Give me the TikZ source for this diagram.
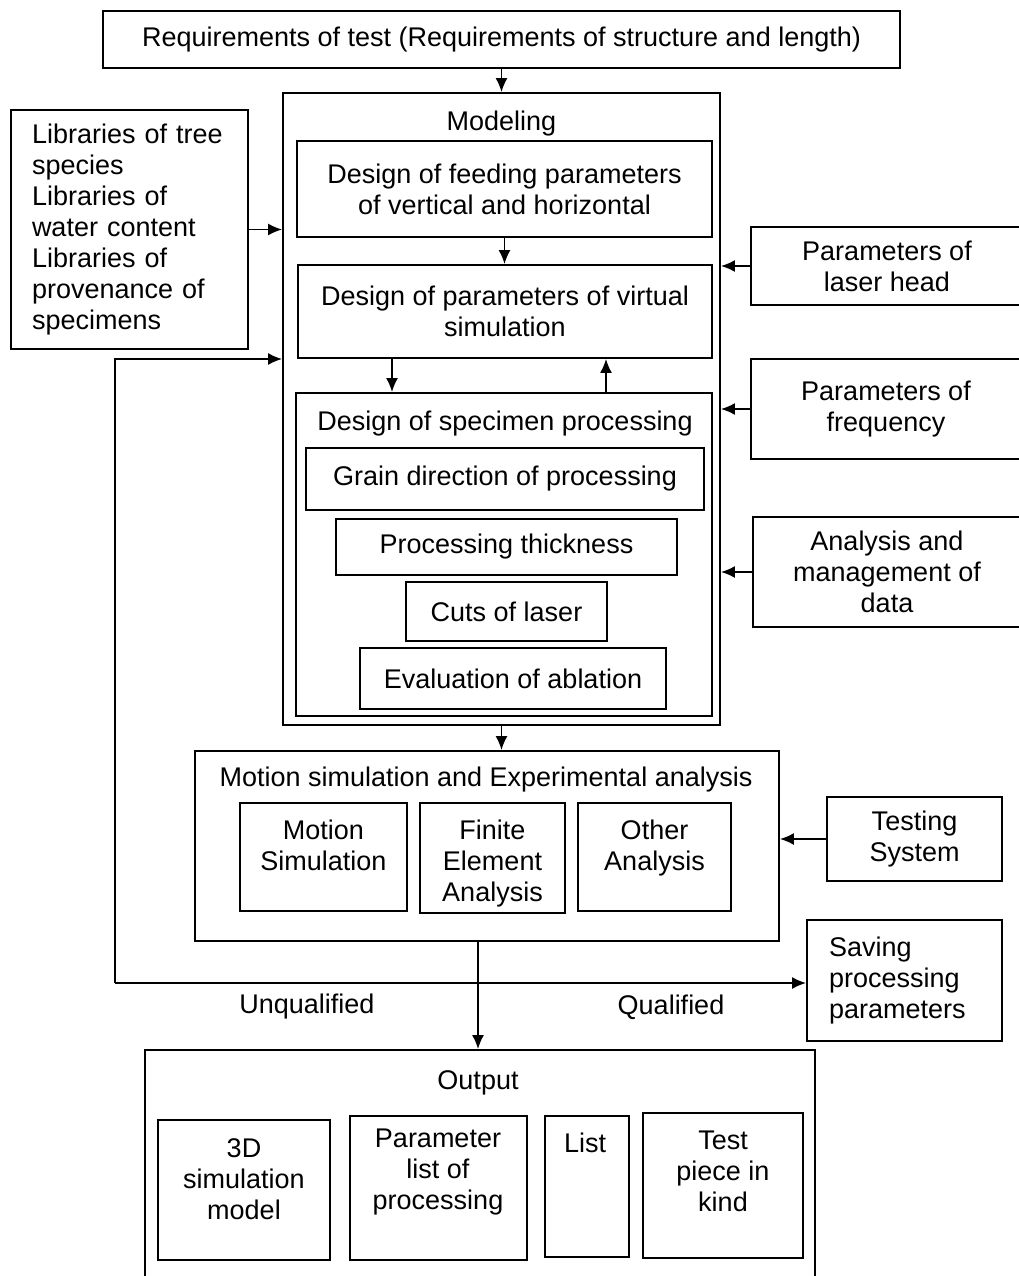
\documentclass[tikz,border=0pt]{standalone}
\usepackage{fontspec}
\setmainfont{Liberation Sans}
\usetikzlibrary{arrows.meta,positioning}

\begin{document}
\begin{tikzpicture}[ x=1pt, y=-1pt, font=\fontsize{27}{31}\selectfont,
  block/.style={rectangle, draw, line width=1.8pt, align=center, inner sep=0pt},
  frame/.style={rectangle, draw, line width=1.8pt, inner sep=0pt},
  title/.style={align=center, inner sep=0pt},
  line/.style={draw, line width=1.8pt, -{Latex[length=14pt,width=12pt]}},
  ]
  \useasboundingbox (0,0) rectangle (1018,1276);

  \node (requirements) [block, minimum width=797pt, minimum height=57pt] at (501.5,39.5) {Requirements of test (Requirements of structure and length)};

  % modeling block
  \node (modeling) [frame, minimum width=437pt, minimum height=632pt] at (501.5,409) {};
  \node (modeling title) [title] at (501.5,124) {Modeling};
  \node (feeding) [block, minimum width=415pt, minimum height=96pt] at (504.5,189) {Design of feeding parameters\\of vertical and horizontal};
  \node (virtual) [block, minimum width=414pt, minimum height=93pt] at (505,311.5) {Design of parameters of virtual\\simulation};
  \node (specimen) [frame, minimum width=416pt, minimum height=323pt] at (504,554.5) {};
  \node (specimen title) [title] at (505,424) {Design of specimen processing};
  \node (grain) [block, minimum width=398pt, minimum height=62pt] at (505,479) {Grain direction of processing};
  \node (thickness) [block, minimum width=341pt, minimum height=56pt] at (506.5,547) {Processing thickness};
  \node (cuts) [block, minimum width=201pt, minimum height=59pt] at (506.5,611.5) {Cuts of laser};
  \node (ablation) [block, minimum width=306pt, minimum height=61pt] at (513,678.5) {Evaluation of ablation};

  % inputs
  \node (libraries) [block, align=left, text width=195pt, inner xsep=21pt, minimum height=239pt] at (129.5,229.5) {Libraries of tree\\species\\Libraries of\\water content\\Libraries of\\provenance of\\specimens};
  \node (laser head) [block, minimum width=272pt, minimum height=78pt] at (887,266) {Parameters of\\laser head};
  \node (frequency) [block, minimum width=270pt, minimum height=100pt] at (886,409) {Parameters of\\frequency};
  \node (data) [block, minimum width=268pt, minimum height=110pt] at (887,572) {Analysis and\\management of\\data};

  % simulation and analysis
  \node (motion) [frame, minimum width=584pt, minimum height=190pt] at (487,846) {};
  \node (motion title) [title] at (486,780) {Motion simulation and Experimental analysis};
  \node (motion sim) [frame, minimum width=167pt, minimum height=108pt] at (323.5,857) {};
  \node (motion sim text) [title] at (323.5,845.5) {Motion\\Simulation};
  \node (finite) [frame, minimum width=145pt, minimum height=110pt] at (492.5,858) {};
  \node (finite text) [title] at (492.5,864) {Finite\\Element\\Analysis};
  \node (other) [frame, minimum width=153pt, minimum height=108pt] at (654.5,857) {};
  \node (other text) [title] at (654.5,848.5) {Other\\Analysis};
  \node (testing) [block, minimum width=175pt, minimum height=84pt] at (914.5,839) {Testing\\System};
  \node (saving) [block, align=left, text width=151pt, inner xsep=22pt, minimum height=121pt] at (904.5,980.5) {Saving\\processing\\parameters};

  % output block
  \node (output) [frame, minimum width=670pt, minimum height=240pt] at (480,1170) {};
  \node (output title) [title] at (478,1083) {Output};
  \node (model 3d) [frame, minimum width=172pt, minimum height=140pt] at (244,1190) {};
  \node (model 3d text) [title] at (244,1179) {3D\\simulation\\model};
  \node (param list) [frame, minimum width=177pt, minimum height=144pt] at (438.5,1188) {};
  \node (param list text) [title] at (438,1172) {Parameter\\list of\\processing};
  \node (list) [frame, minimum width=84pt, minimum height=141pt] at (587,1186.5) {};
  \node (list text) [title] at (585,1143) {List};
  \node (test piece) [frame, minimum width=160pt, minimum height=145pt] at (723,1185.5) {};
  \node (test piece text) [title] at (723,1171) {Test\\piece in\\kind};

  \node (unqualified) [title] at (307,1007) {Unqualified};
  \node (qualified) [title] at (671,1007) {Qualified};
  \coordinate (loop corner) at (115,983);

  % edges:
  \path[line] (requirements) -- (modeling);
  \path[line] (libraries.east) -- (libraries.east -| modeling.west);
  \path[line] (feeding.south) -- (feeding.south |- virtual.north);
  \path[line] ([xshift=-113pt]virtual.south) -- ([xshift=-113pt]virtual.south |- specimen.north);
  \path[line] ([xshift=102pt]specimen.north) -- ([xshift=102pt]specimen.north |- virtual.south);
  \path[line] (laser head.west) -- (laser head.west -| modeling.east);
  \path[line] (frequency.west) -- (frequency.west -| modeling.east);
  \path[line] (data.west) -- (data.west -| modeling.east);
  \path[line] (modeling.south) -- (modeling.south |- motion.north);
  \path[line] (testing.west) -- (testing.west -| motion.east);
  \path[line] ([xshift=-9pt]motion.south) -- ([xshift=-9pt]motion.south |- output.north);
  \path[line] (loop corner) -- (loop corner -| saving.west);
  \path[line] (loop corner) |- ([yshift=50pt]modeling.west);
\end{tikzpicture}
\end{document}
